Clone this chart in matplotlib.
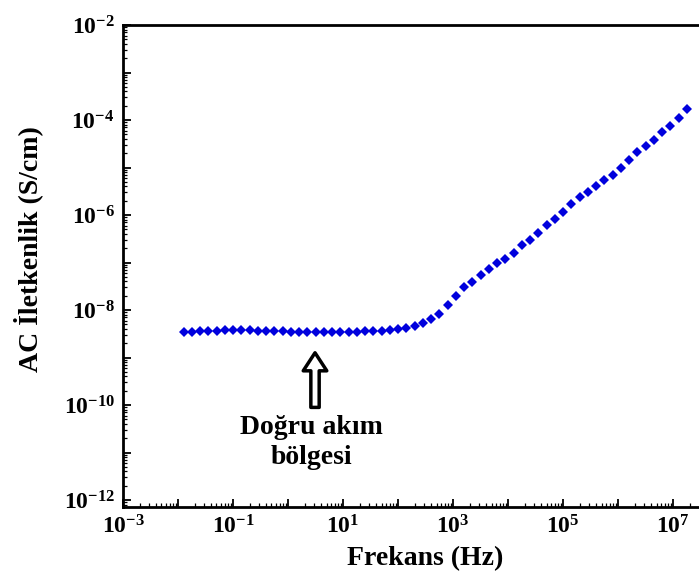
import matplotlib
matplotlib.use("Agg")
import matplotlib.pyplot as plt
from matplotlib.ticker import LogLocator, FixedLocator, NullFormatter

plt.rcParams["font.family"] = ["Liberation Serif", "DejaVu Serif"]
plt.rcParams["font.weight"] = "bold"
plt.rcParams["mathtext.fontset"] = "custom"
plt.rcParams["mathtext.rm"] = "Liberation Serif:bold"
plt.rcParams["mathtext.bf"] = "Liberation Serif:bold"
plt.rcParams["mathtext.it"] = "Liberation Serif:bold"

# log10 of frequency (Hz)
log_freq = [-1.90, -1.75, -1.60, -1.45, -1.30, -1.15, -1.00, -0.85, -0.70, -0.55,
            -0.40, -0.25, -0.10, 0.05, 0.20, 0.35, 0.50, 0.65, 0.80, 0.95,
            1.10, 1.25, 1.40, 1.55, 1.70, 1.85, 2.00, 2.15, 2.30, 2.45,
            2.60, 2.75, 2.90, 3.05, 3.20, 3.35, 3.50, 3.65, 3.80, 3.95,
            4.10, 4.25, 4.40, 4.55, 4.70, 4.85, 5.00, 5.15, 5.30, 5.45,
            5.60, 5.75, 5.90, 6.05, 6.20, 6.35, 6.50, 6.65, 6.80, 6.95,
            7.10, 7.25]
# log10 of AC conductivity (S/cm)
log_sigma = [-8.47, -8.46, -8.45, -8.44, -8.44, -8.43, -8.43, -8.43, -8.43, -8.44,
             -8.44, -8.45, -8.45, -8.46, -8.46, -8.46, -8.46, -8.46, -8.46, -8.46,
             -8.46, -8.46, -8.45, -8.45, -8.44, -8.43, -8.41, -8.38, -8.33, -8.27,
             -8.19, -8.08, -7.90, -7.70, -7.52, -7.42, -7.27, -7.14, -7.02, -6.93,
             -6.80, -6.63, -6.52, -6.38, -6.22, -6.08, -5.93, -5.76, -5.62, -5.51,
             -5.38, -5.26, -5.15, -5.00, -4.85, -4.68, -4.55, -4.42, -4.26, -4.12,
             -3.95, -3.76]

freq = [10 ** v for v in log_freq]
sigma = [10 ** v for v in log_sigma]

x_major = [-3, -2, -1, 0, 1, 2, 3, 4, 5, 6, 7]
x_labeled = [-3, -1, 1, 3, 5, 7]
y_major = [-12, -11, -10, -9, -8, -7, -6, -5, -4, -3, -2]
y_labeled = [-12, -10, -8, -6, -4, -2]

fig = plt.figure(figsize=(6.99, 5.75), dpi=100)
ax = fig.add_axes([0.176, 0.118, 0.824, 0.8385])
ax.set_xscale("log")
ax.set_yscale("log")
ax.set_xlim(1e-3, 10 ** 7.47)
ax.set_ylim(10 ** -12.15, 1e-2)

ax.plot(freq, sigma, linestyle="none", marker="D", markersize=5.3,
        color="#0000dd", markeredgewidth=0)

for s in ["left", "bottom", "top"]:
    ax.spines[s].set_linewidth(2.0)
ax.spines["right"].set_visible(False)

ax.xaxis.set_major_locator(FixedLocator([10.0 ** e for e in x_major]))
ax.yaxis.set_major_locator(FixedLocator([10.0 ** e for e in y_major]))
ax.xaxis.set_minor_locator(LogLocator(base=10, subs=range(2, 10), numticks=30))
ax.yaxis.set_minor_locator(LogLocator(base=10, subs=range(2, 10), numticks=30))
ax.xaxis.set_minor_formatter(NullFormatter())
ax.yaxis.set_minor_formatter(NullFormatter())
ax.set_xticklabels([r"$10^{%d}$" % e if e in x_labeled else "" for e in x_major])
ax.set_yticklabels([r"$10^{%d}$" % e if e in y_labeled else "" for e in y_major])

ax.tick_params(which="major", direction="in", length=6, width=1.3,
               labelsize=17, top=False, right=False, pad=6)
ax.tick_params(which="minor", direction="in", length=3, width=0.9,
               top=False, right=False)

ax.set_xlabel("Frekans (Hz)", fontsize=20, fontweight="bold")
ax.set_ylabel("AC İletkenlik (S/cm)", fontsize=20, fontweight="bold")
ax.xaxis.set_label_coords(0.524, -0.08)
ax.yaxis.set_label_coords(-0.138, 0.535)

ax.annotate("", xy=(10 ** 0.49, 10 ** -8.9), xytext=(10 ** 0.49, 10 ** -10.05),
            arrowprops=dict(facecolor="white", edgecolor="black", lw=2.5,
                            width=6, headwidth=17, headlength=13))
ax.text(10 ** 0.43, 10 ** -10.79, "Doğru akım\nbölgesi", ha="center", va="center",
        fontsize=20, fontweight="bold", linespacing=1.25)

fig.savefig("out.png", dpi=100, facecolor="white")
